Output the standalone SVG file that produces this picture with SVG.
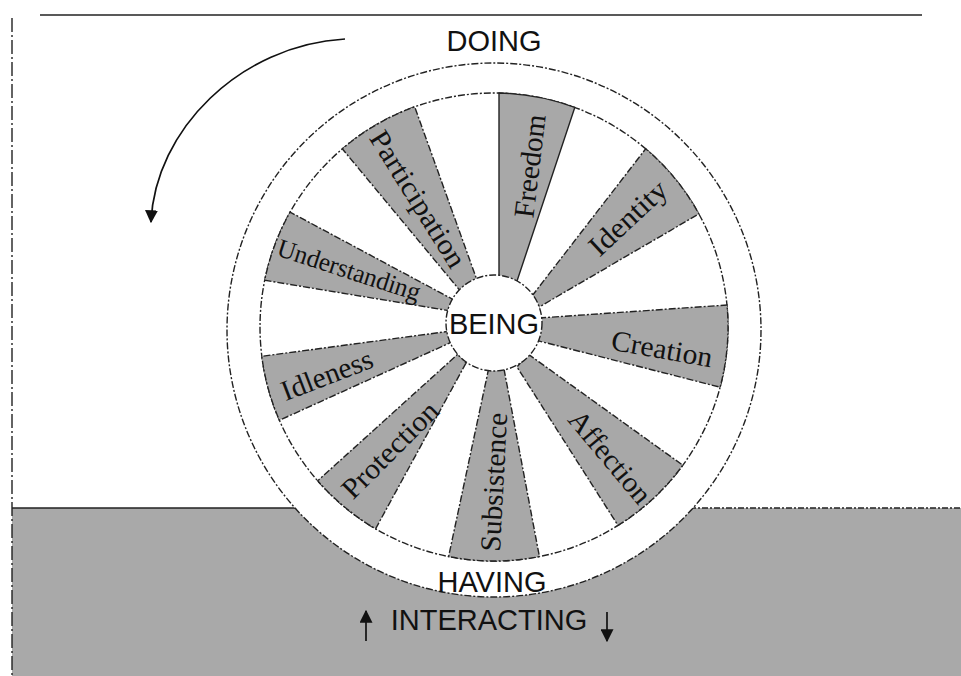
<svg xmlns="http://www.w3.org/2000/svg" width="961" height="676" viewBox="0 0 961 676">
<defs>
<style>
.edge{stroke:#222;stroke-width:1.4;stroke-dasharray:7 2 2 2;}
.sec{fill:#a8a8a8;stroke:#222;stroke-width:1.4;stroke-dasharray:7 2 2 2;}
.lbl{font-family:"Liberation Serif","Times New Roman",serif;font-size:29px;fill:#111;text-anchor:middle;}
.cap{font-family:"Liberation Sans",Arial,sans-serif;font-size:29px;fill:#111;text-anchor:middle;}
</style>
<marker id="ah" viewBox="0 0 10 10" refX="9" refY="5" markerWidth="13" markerHeight="13" markerUnits="userSpaceOnUse" orient="auto">
<path d="M0,0 L10,5 L0,10 Z" fill="#111"/>
</marker>
</defs>
<rect x="0" y="0" width="961" height="676" fill="#ffffff"/>
<g id="frame">
<rect x="12" y="508" width="949" height="168" fill="#a9a9a9"/>
<line x1="40" y1="15" x2="922" y2="15" stroke="#222" stroke-width="1.6"/>
<line x1="12" y1="18" x2="12" y2="676" stroke="#222" stroke-width="1.4" stroke-dasharray="14 3 2 3"/>
<line x1="12" y1="508" x2="300" y2="508" stroke="#222" stroke-width="1.6"/>
<line x1="690" y1="508" x2="961" y2="508" stroke="#222" stroke-width="1.4" stroke-dasharray="6 2 2 2"/>
</g>
<g id="wheel">
<circle cx="494" cy="330" r="267" fill="#ffffff" class="edge"/>
<circle cx="494" cy="327" r="234" fill="#ffffff" class="edge"/>
</g>
<g id="freedom">
<path class="sec" d="M499,285 L499,93 A234,234 0 0 1 574.8,107.4 L514.7,288 Z" style="stroke-dasharray:none"/>
<text class="lbl" transform="translate(530,166) rotate(-83)" dy="0.33em" textLength="104" lengthAdjust="spacingAndGlyphs">Freedom</text>
</g>
<g id="identity">
<path class="sec" d="M532,296 L645.7,148.8 A234,234 0 0 1 698.9,213.9 L534,310 Z"/>
<text class="lbl" transform="translate(628,218) rotate(-43)" dy="0.33em" textLength="96" lengthAdjust="spacingAndGlyphs">Identity</text>
</g>
<g id="creation">
<path class="sec" d="M539,318 L727,305 A234,234 0 0 1 720.1,387.2 L535,340 Z"/>
<text class="lbl" transform="translate(662,349) rotate(10)" dy="0.33em" textLength="102" lengthAdjust="spacingAndGlyphs">Creation</text>
</g>
<g id="affection">
<path class="sec" d="M528,354 L682.8,465.2 A234,234 0 0 1 618,525.4 L517,367 Z"/>
<text class="lbl" transform="translate(610,457) rotate(50)" dy="0.33em" textLength="112" lengthAdjust="spacingAndGlyphs">Affection</text>
</g>
<g id="subsistence">
<path class="sec" d="M504,369 L539.4,556.6 A234,234 0 0 1 448.6,556.6 L489,367 Z"/>
<text class="lbl" transform="translate(494,482) rotate(-87)" dy="0.33em" textLength="139" lengthAdjust="spacingAndGlyphs">Subsistence</text>
</g>
<g id="protection">
<path class="sec" d="M466,363 L375.6,528.8 A234,234 0 0 1 317.7,480.8 L458,354 Z"/>
<text class="lbl" transform="translate(390,450) rotate(-45)" dy="0.33em" textLength="124" lengthAdjust="spacingAndGlyphs">Protection</text>
</g>
<g id="idleness">
<path class="sec" d="M454,341 L279.4,420.3 A234,234 0 0 1 261.8,356.3 L451,331 Z"/>
<text class="lbl" transform="translate(327,375) rotate(-21)" dy="0.33em" textLength="96" lengthAdjust="spacingAndGlyphs">Idleness</text>
</g>
<g id="understanding">
<path class="sec" d="M451,311 L264.7,280.3 A234,234 0 0 1 290.1,212.1 L454,300 Z"/>
<text class="lbl" transform="translate(349,270) rotate(18)" dy="0.33em" style="font-size:26px" textLength="149" lengthAdjust="spacingAndGlyphs">Understanding</text>
</g>
<g id="participation">
<path class="sec" d="M462,293 L342.3,148.8 A234,234 0 0 1 414.7,106.8 L478,283 Z"/>
<text class="lbl" transform="translate(418,199) rotate(58)" dy="0.33em" textLength="156" lengthAdjust="spacingAndGlyphs">Participation</text>
</g>
<g id="being">
<circle cx="494" cy="323" r="48" fill="#ffffff" class="edge"/>
<text class="cap" x="494" y="334">BEING</text>
</g>
<g id="doing">
<text class="cap" x="494" y="51">DOING</text>
</g>
<g id="having">
<text class="cap" x="492" y="592">HAVING</text>
</g>
<g id="interacting">
<text class="cap" x="489" y="630">INTERACTING</text>
</g>
<g id="connectors" fill="none" stroke="#111" stroke-width="1.7">
<path d="M345,39 C240,45 155,130 151,222" marker-end="url(#ah)"/>
<line x1="366" y1="641" x2="366" y2="611" marker-end="url(#ah)"/>
<line x1="607" y1="612" x2="607" y2="641" marker-end="url(#ah)"/>
</g>
</svg>
